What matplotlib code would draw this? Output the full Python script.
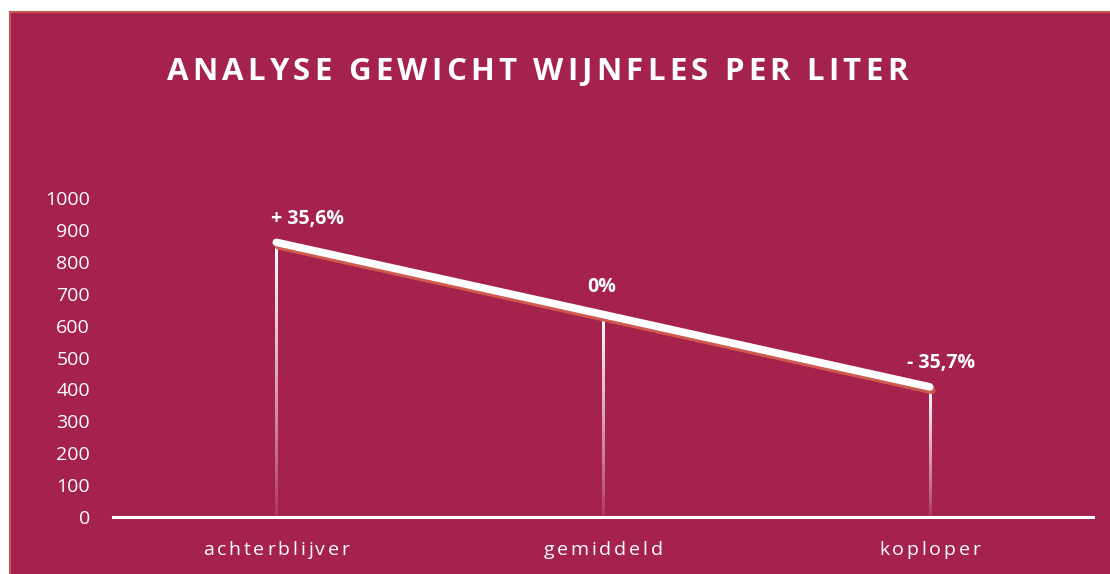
import numpy as np
import matplotlib.pyplot as plt
import matplotlib.transforms as mtransforms
from matplotlib.patches import Rectangle
import matplotlib.patheffects as pe

categories = ['achterblijver', 'gemiddeld', 'koploper']
values = [861, 635, 408]
labels = ['+ 35,6%', '0%', '- 35,7%']
yticks = list(range(0, 1001, 100))
title = 'ANALYSE GEWICHT WIJNFLES PER LITER'

BG = '#A4224B'
EDGE = '#C9574F'
plt.rcParams['font.family'] = ['Open Sans', 'DejaVu Sans']

fig = plt.figure(figsize=(11.10, 5.74), dpi=100)
fig.patch.set_facecolor('white')
renderer = fig.canvas.get_renderer()


def spaced_text(trans, x, y, s, spacing, **kw):
    """draw s centred at (x, y) in trans with extra letter spacing (pixels)"""
    def width(txt):
        t = fig.text(0, 0, txt, **kw)
        w = t.get_window_extent(renderer).width
        t.remove()
        return w
    widths = []
    for ch in s:
        if ch == ' ':
            widths.append(width('a a') - width('aa'))
        else:
            widths.append(width(ch))
    total = sum(widths) + spacing * (len(s) - 1)
    pos = -total / 2
    for ch, w in zip(s, widths):
        if ch != ' ':
            tr = mtransforms.offset_copy(trans, fig=fig, x=pos, y=0, units='dots')
            fig.text(x, y, ch, transform=tr, ha='left', **kw)
        pos += w + spacing


bg = fig.add_axes([0, 0, 1, 1], zorder=-1)
bg.set_axis_off()
bg.set_xlim(0, 1)
bg.set_ylim(0, 1)
bg.add_patch(Rectangle((10 / 1110, -0.01), 1.02, 1 - 12 / 574 + 0.01,
                       facecolor=BG, edgecolor=EDGE, linewidth=1.5))

ax = fig.add_axes([113 / 1110, 1 - 517 / 574, 980 / 1110, (517 - 198) / 574], zorder=1)
ax.set_facecolor('none')
x = np.arange(len(categories))
ax.set_xlim(-0.5, len(categories) - 0.5)
ax.set_ylim(0, 1000)

# drop lines: thin vertical gradient (white at the point, fading to the axis)
half_w = 1.0 / 326.5
grad = np.ones((100, 1, 4))
grad[:, 0, 3] = np.linspace(1.0, 0.05, 100) ** 0.8
for xi, v in zip(x, values):
    ax.imshow(grad, extent=(xi - half_w, xi + half_w, 0, v), origin='upper',
              aspect='auto', interpolation='bilinear', zorder=2)
ax.set_xlim(-0.5, len(categories) - 0.5)
ax.set_ylim(0, 1000)

# main line with reddish shadow
ax.plot(x, values, color='white', linewidth=5.5, solid_capstyle='round', zorder=4,
        path_effects=[pe.SimpleLineShadow(offset=(1.5, -2.5), shadow_color='#D05A4E',
                                          alpha=1.0), pe.Normal()])

label_offsets = [(0.095, 17), (-0.003, 20), (0.034, 17)]
for xi, v, lab, (dx, dy) in zip(x, values, labels, label_offsets):
    ax.annotate(lab, (xi + dx, v), xytext=(0, dy), textcoords='offset points',
                ha='center', va='center', color='white', fontsize=14,
                fontweight='bold')

for s in ['top', 'right', 'left']:
    ax.spines[s].set_visible(False)
ax.spines['bottom'].set_color('white')
ax.spines['bottom'].set_linewidth(2.2)
ax.spines['bottom'].set_zorder(5)

ax.set_yticks(yticks)
ax.set_yticklabels([str(t) for t in yticks], color='white', fontsize=14)
ax.tick_params(axis='y', length=0, pad=16.5)
ax.set_xticks(x)
ax.set_xticklabels([])
ax.tick_params(axis='x', length=0)

xlab_trans = ax.get_xaxis_transform()
for xi, c in zip(x, categories):
    spaced_text(xlab_trans, xi, -0.105, c, 2.8, va='center', color='white', fontsize=14)

spaced_text(fig.transFigure, 537 / 1110, 1 - 72 / 574, title, 4.2,
            va='center', color='white', fontsize=22.5, fontweight='bold')

fig.savefig('out.png', dpi=100, facecolor=fig.get_facecolor())
